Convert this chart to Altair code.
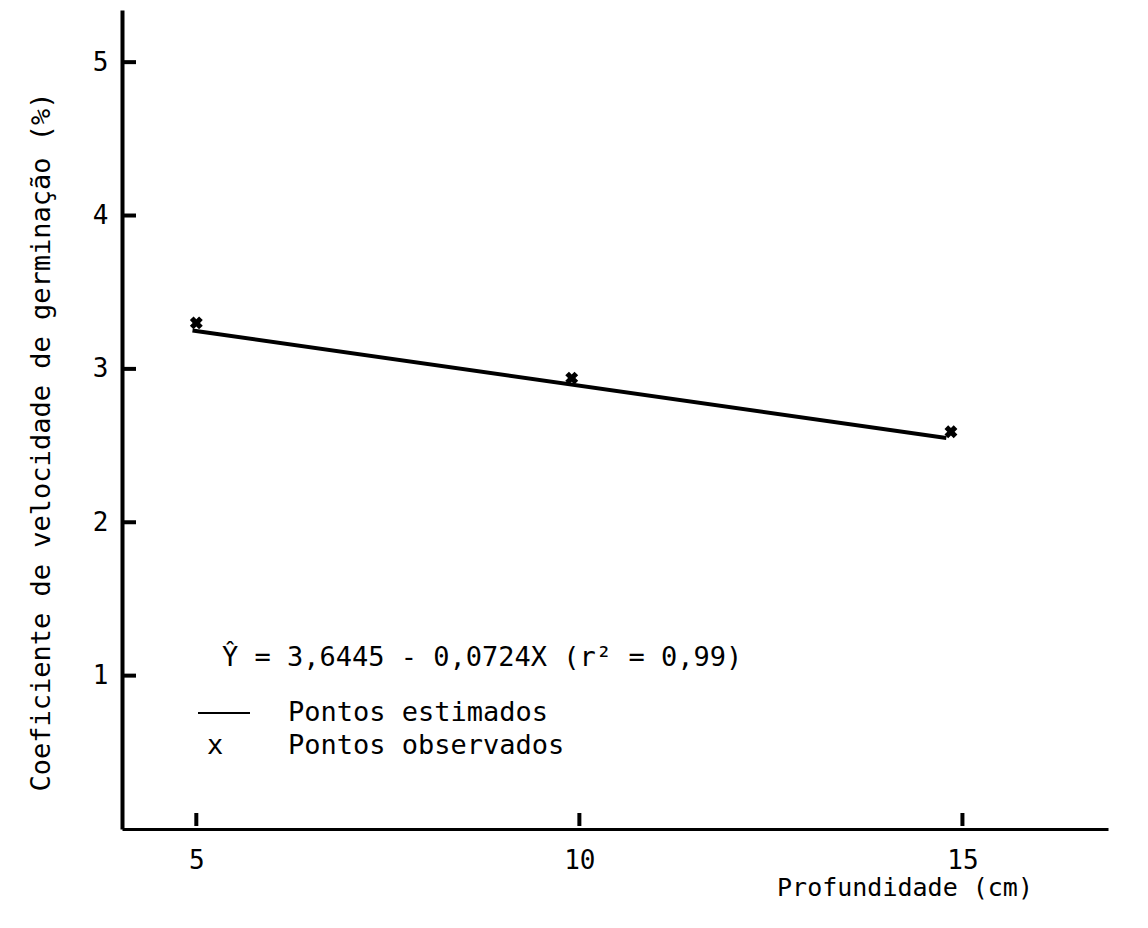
import altair as alt
import pandas as pd

FONT = "DejaVu Sans Mono"

obs_x = [5.0, 9.9, 14.85]
obs_y = [3.30, 2.94, 2.59]
# estimated line endpoints
est_x = [4.95, 14.79]
est_y = [3.25, 2.55]
y_ticks = [1, 2, 3, 4, 5]
x_ticks = [5, 10, 15]

W, H = 986, 819
xs = alt.Scale(domain=[4.03, 16.9], nice=False, zero=False)
ys = alt.Scale(domain=[0, 5.34], nice=False, zero=False)

obs = pd.DataFrame({"x": obs_x, "y": obs_y})
est = pd.DataFrame({"x": est_x, "y": est_y})
yt = pd.DataFrame({"v": y_ticks})
xt = pd.DataFrame({"v": x_ticks})

xaxis = alt.Axis(values=x_ticks, format="d", title=None, ticks=False, grid=False,
                 domainColor="black", domainWidth=3, labelFont=FONT, labelFontSize=26,
                 labelColor="black", labelPadding=18, labelBaseline="top")
yaxis = alt.Axis(values=y_ticks, format="d", title=None, ticks=False, grid=False,
                 domainColor="black", domainWidth=4, labelFont=FONT, labelFontSize=26,
                 labelColor="black", labelPadding=14)

line = alt.Chart(est).mark_line(color="black", strokeWidth=4).encode(
    x=alt.X("x:Q", scale=xs, axis=xaxis),
    y=alt.Y("y:Q", scale=ys, axis=yaxis),
)
pts = alt.Chart(obs).mark_point(shape="cross", angle=45, filled=True, color="black",
                                size=170, opacity=1).encode(
    x=alt.X("x:Q", scale=xs), y=alt.Y("y:Q", scale=ys))

ytk = alt.Chart(yt).mark_rule(color="black", strokeWidth=4).encode(
    y=alt.Y("v:Q", scale=ys), x=alt.value(0), x2=alt.value(14))
xtk = alt.Chart(xt).mark_rule(color="black", strokeWidth=4).encode(
    x=alt.X("v:Q", scale=xs), y=alt.value(803), y2=alt.value(816))

def txt(s, x, y, size=27, angle=0, align="left"):
    return alt.Chart(pd.DataFrame({"t": [s]})).mark_text(
        font=FONT, fontSize=size, color="black", align=align, baseline="middle",
        angle=angle).encode(text="t:N", x=alt.value(x), y=alt.value(y))

eq = txt("Ŷ = 3,6445 - 0,0724X (r² = 0,99)", 100, 648)
leg_line = alt.Chart(pd.DataFrame({"a": [0]})).mark_rule(color="black", strokeWidth=2).encode(
    x=alt.value(76), x2=alt.value(128), y=alt.value(703))
leg1 = txt("Pontos estimados", 166, 703)
leg2x = txt("x", 93, 736, align="center")
leg2 = txt("Pontos observados", 166, 736)
xtitle = txt("Profundidade (cm)", 783, 878, size=25, align="center")
ytitle = txt("Coeficiente de velocidade de germinação (%)", -80, 432, size=27,
             angle=270, align="center")

chart = alt.layer(line, pts, ytk, xtk, eq, leg_line, leg1, leg2x, leg2, xtitle, ytitle).properties(
    width=W, height=H,
    background="white",
    autosize=alt.AutoSizeParams(type="none"),
    padding={"left": 122, "top": 10, "right": 40, "bottom": 99},
).configure_view(stroke=None)

chart.save("out.html", embed_options={"renderer": "svg", "actions": False})
